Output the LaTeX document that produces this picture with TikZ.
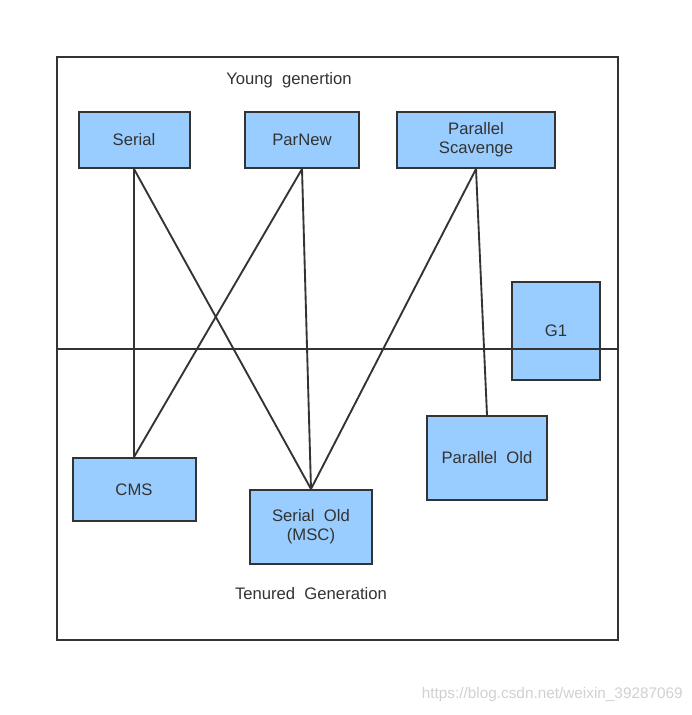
\documentclass[tikz,border=0pt]{standalone}
\usepackage{fontspec}
\setmainfont{Liberation Sans}
\definecolor{boxfill}{HTML}{99CCFF}
\definecolor{ink}{HTML}{333333}
\begin{document}
\begin{tikzpicture}[x=0.75pt,y=-0.75pt,
  gcbox/.style={draw=ink,line width=1.5pt,fill=boxfill,inner sep=0pt,align=center,
    text=ink,font=\fontsize{12.5}{14.5}\selectfont},
  link/.style={draw=ink,line width=1.4pt},
  lbl/.style={text=ink,font=\fontsize{12.5}{14.5}\selectfont,inner sep=0pt}]
\useasboundingbox (0,0) rectangle (692,715);
\fill[white] (0,0) rectangle (692,715);
\node[draw=ink,line width=1.5pt,minimum width=561*0.75pt,minimum height=583*0.75pt,inner sep=0pt] (frame) at (337.5,348.5) {};
\node[lbl] (young) at (289,80) {Young\ \ genertion};
\node[lbl] (tenured) at (311,594) {Tenured\ \ Generation};
\node[gcbox,minimum width=111*0.75pt,minimum height=56*0.75pt] (serial) at (134,140) {Serial};
\node[gcbox,minimum width=114*0.75pt,minimum height=56*0.75pt] (parnew) at (302,140) {ParNew};
\node[gcbox,minimum width=158*0.75pt,minimum height=56*0.75pt] (ps) at (476,140) {Parallel\\Scavenge};
\node[gcbox,minimum width=88*0.75pt,minimum height=98*0.75pt] (g1) at (556,331) {G1};
\node[gcbox,minimum width=123*0.75pt,minimum height=63*0.75pt] (cms) at (134,489.5) {CMS};
\node[gcbox,minimum width=122*0.75pt,minimum height=74*0.75pt] (so) at (311,527) {Serial\ \ Old\\(MSC)};
\node[gcbox,minimum width=120*0.75pt,minimum height=84*0.75pt] (po) at (487,458) {Parallel\ \ Old};
\coordinate (hl) at (57,349);
\coordinate (hr) at (618,349);
\draw[link] (hl) -- (hr);
\draw[link] (serial.south) -- (cms.north);
\draw[link] (serial.south) -- (so.north);
\draw[link] (parnew.south) -- (cms.north);
\draw[link] (parnew.south) -- (so.north);
\draw[link] (ps.south) -- (so.north);
\draw[link] (ps.south) -- (po.north);
\node[text=black!18,font=\fontsize{11.5}{13}\selectfont,anchor=east,inner sep=0pt] (wm) at (683,695) {https://blog.csdn.net/weixin\_39287069};
\end{tikzpicture}
\end{document}
